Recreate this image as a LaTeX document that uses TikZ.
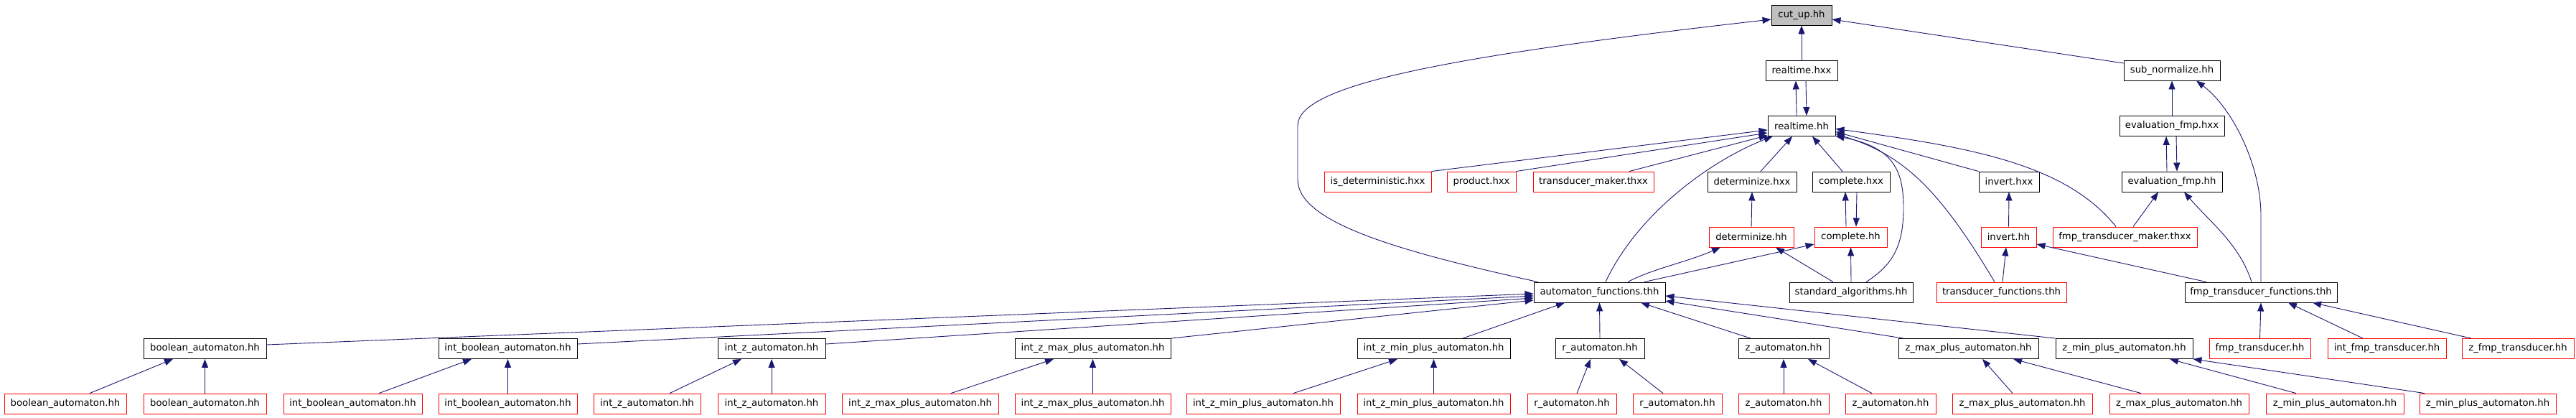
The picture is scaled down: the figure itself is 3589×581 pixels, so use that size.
\documentclass[tikz,border=0pt]{standalone}
\usepackage{fontspec}
\usetikzlibrary{arrows.meta}
\newfontfamily\dv{DejaVu Sans}
\definecolor{edgeblue}{HTML}{191970}
\definecolor{boxred}{HTML}{FF0000}
\definecolor{boxgray}{HTML}{BFBFBF}
\newcommand{\bx}[6]{\node[#5,minimum width={#3pt-#2pt}] (#1) at ({(#2+#3)/2},#4) {#6};}
\tikzset{
  base/.style={draw, fill=white, line width=0.9pt, inner sep=0pt, minimum height=28pt,
    font=\dv\fontsize{13.2}{16}\selectfont, text=black},
  bbox/.style={base, draw=black},
  rbox/.style={base, draw=boxred},
  gbox/.style={base, draw=black, fill=boxgray},
  ed/.style={draw=edgeblue, line width=0.9pt, {Triangle[length=12pt,width=9pt]}-}
}
\begin{document}
\begin{tikzpicture}[x=1pt,y=-1pt]
\fill[white] (0,0) rectangle (3589,581);
\useasboundingbox (0,0) rectangle (3589,581);
% row 1-3
\bx{cutup}{2468}{2552}{21}{gbox}{cut\_up.hh}
\bx{rthxx}{2460}{2560}{98}{bbox}{realtime.hxx}
\bx{subnorm}{2959}{3093}{98}{bbox}{sub\_normalize.hh}
\bx{rthh}{2463}{2557}{175.5}{bbox}{realtime.hh}
\bx{evalhxx}{2953}{3099}{175.5}{bbox}{evaluation\_fmp.hxx}
% row 4
\bx{isdet}{1845}{1994}{253}{rbox}{is\_deterministic.hxx}
\bx{product}{2016}{2112}{253}{rbox}{product.hxx}
\bx{tmaker}{2136}{2304}{253}{rbox}{transducer\_maker.thxx}
\bx{dethxx}{2379}{2503}{253}{bbox}{determinize.hxx}
\bx{comphxx}{2525}{2633}{253}{bbox}{complete.hxx}
\bx{invhxx}{2757}{2841}{253}{bbox}{invert.hxx}
\bx{evalhh}{2956}{3096}{253}{bbox}{evaluation\_fmp.hh}
% row 5
\bx{dethh}{2381}{2499}{330}{rbox}{determinize.hh}
\bx{comphh}{2528}{2629}{330}{rbox}{complete.hh}
\bx{invhh}{2760}{2837}{330}{rbox}{invert.hh}
\bx{fmptm}{2860}{3061}{330}{rbox}{fmp\_transducer\_maker.thxx}
% row 6
\bx{af}{2137}{2320}{407}{bbox}{automaton\_functions.thh}
\bx{stdalg}{2493}{2665}{407}{bbox}{standard\_algorithms.hh}
\bx{tfun}{2698}{2879}{407}{rbox}{transducer\_functions.thh}
\bx{fmptf}{3044}{3256}{407}{bbox}{fmp\_transducer\_functions.thh}
% row 7
\bx{ba}{200}{371}{485.5}{bbox}{boolean\_automaton.hh}
\bx{iba}{611}{804}{485.5}{bbox}{int\_boolean\_automaton.hh}
\bx{iza}{1000}{1150}{485.5}{bbox}{int\_z\_automaton.hh}
\bx{izmax}{1414}{1631}{485.5}{bbox}{int\_z\_max\_plus\_automaton.hh}
\bx{izmin}{1891}{2104}{485.5}{bbox}{int\_z\_min\_plus\_automaton.hh}
\bx{ra}{2167}{2291}{485.5}{bbox}{r\_automaton.hh}
\bx{za}{2422}{2548}{485.5}{bbox}{z\_automaton.hh}
\bx{zmax}{2645}{2840}{485.5}{bbox}{z\_max\_plus\_automaton.hh}
\bx{zmin}{2864}{3055}{485.5}{bbox}{z\_min\_plus\_automaton.hh}
\bx{fmpt}{3078}{3219}{485.5}{rbox}{fmp\_transducer.hh}
\bx{ifmpt}{3243}{3408}{485.5}{rbox}{int\_fmp\_transducer.hh}
\bx{zfmpt}{3430}{3586}{485.5}{rbox}{z\_fmp\_transducer.hh}
% row 8
\bx{ba1}{6}{176}{562}{rbox}{boolean\_automaton.hh}
\bx{ba2}{200}{371}{562}{rbox}{boolean\_automaton.hh}
\bx{iba1}{395}{588}{562}{rbox}{int\_boolean\_automaton.hh}
\bx{iba2}{611}{804}{562}{rbox}{int\_boolean\_automaton.hh}
\bx{iza1}{827}{976}{562}{rbox}{int\_z\_automaton.hh}
\bx{iza2}{1000}{1150}{562}{rbox}{int\_z\_automaton.hh}
\bx{izmax1}{1173}{1391}{562}{rbox}{int\_z\_max\_plus\_automaton.hh}
\bx{izmax2}{1414}{1631}{562}{rbox}{int\_z\_max\_plus\_automaton.hh}
\bx{izmin1}{1653}{1867}{562}{rbox}{int\_z\_min\_plus\_automaton.hh}
\bx{izmin2}{1891}{2104}{562}{rbox}{int\_z\_min\_plus\_automaton.hh}
\bx{ra1}{2128}{2252}{562}{rbox}{r\_automaton.hh}
\bx{ra2}{2275}{2399}{562}{rbox}{r\_automaton.hh}
\bx{za1}{2422}{2548}{562}{rbox}{z\_automaton.hh}
\bx{za2}{2571}{2697}{562}{rbox}{z\_automaton.hh}
\bx{zmax1}{2720}{2915}{562}{rbox}{z\_max\_plus\_automaton.hh}
\bx{zmax2}{2939}{3133}{562}{rbox}{z\_max\_plus\_automaton.hh}
\bx{zmin1}{3157}{3349}{562}{rbox}{z\_min\_plus\_automaton.hh}
\bx{zmin2}{3371}{3561}{562}{rbox}{z\_min\_plus\_automaton.hh}
% edges (arrow tip at the first point)
\draw[ed] (cutup.south) -- (rthxx.north);
\draw[ed] ([yshift=-6pt]cutup.west) .. controls (2000,80) and (1808,120) .. (1808,175) -- (1808,250) .. controls (1808,310) and (1950,350) .. ([xshift=6pt]af.north west);
\draw[ed] ([yshift=-6pt]cutup.east) -- ([yshift=10pt]subnorm.west);
\draw[ed] ([xshift=-8pt]rthxx.south) -- ([xshift=-7pt]rthh.north);
\draw[ed] ([xshift=7pt]rthh.north) -- ([xshift=6pt]rthxx.south);
\draw[ed] ([yshift=-5.5pt]rthh.west) -- (isdet.north east);
\draw[ed] ([yshift=-9.5pt]rthh.west) -- (product.north east);
\draw[ed] ([yshift=-13pt]rthh.west) -- ([xshift=50pt]tmaker.north);
\draw[ed] ([xshift=7pt]rthh.south west) .. controls (2380,225) and (2280,300) .. ([xshift=8.5pt]af.north);
\draw[ed] ([xshift=-13pt]rthh.south) -- ([xshift=12pt]dethxx.north);
\draw[ed] ([xshift=15pt]rthh.south) -- ([xshift=-12pt]comphxx.north);
\draw[ed] ([yshift=-4pt]rthh.east) .. controls (2750,205) and (2880,230) .. ([xshift=-12.5pt]fmptm.north);
\draw[ed] ([yshift=-8pt]rthh.east) -- (invhxx.north west);
\draw[ed] ([yshift=-11pt]rthh.east) .. controls (2650,215) and (2700,260) .. ([xshift=-9.5pt]tfun.north);
\draw[ed] ([yshift=-14pt]rthh.east) .. controls (2640,205) and (2652,240) .. (2652,290) .. controls (2652,345) and (2635,370) .. ([xshift=21pt]stdalg.north);
\draw[ed] (subnorm.south) -- (evalhxx.north);
\draw[ed] ([xshift=34pt]subnorm.south) .. controls (3110,150) and (3150,230) .. (3150,300) -- (fmptf.north);
\draw[ed] ([xshift=-8pt]evalhxx.south) -- ([xshift=-7pt]evalhh.north);
\draw[ed] ([xshift=7pt]evalhh.north) -- ([xshift=6pt]evalhxx.south);
\draw[ed] ([xshift=-19pt]evalhh.south) -- ([xshift=11.5pt]fmptm.north);
\draw[ed] ([xshift=17pt]evalhh.south) .. controls (3080,310) and (3120,340) .. ([xshift=-13pt]fmptf.north);
\draw[ed] (dethxx.south) -- (dethh.north);
\draw[ed] ([xshift=-8pt]comphxx.south) -- ([xshift=-6.5pt]comphh.north);
\draw[ed] ([xshift=7.5pt]comphh.north) -- ([xshift=8pt]comphxx.south);
\draw[ed] ([xshift=-43pt]dethh.south) .. controls (2350,365) and (2300,375) .. ([xshift=39.5pt]af.north);
\draw[ed] ([yshift=-10pt]comphh.west) -- ([xshift=62.5pt]af.north);
\draw[ed] ([xshift=34pt]dethh.south) -- ([xshift=-25pt]stdalg.north);
\draw[ed] (comphh.south) -- (stdalg.north);
\draw[ed] (invhxx.south) -- (invhh.north);
\draw[ed] ([xshift=-3.5pt]invhh.south) -- ([xshift=1.5pt]tfun.north);
\draw[ed] ([yshift=-10pt]invhh.east) -- ([xshift=-76pt]fmptf.north);
% into automaton_functions
\draw[ed] ([yshift=-2pt]af.west) -- ([yshift=5.5pt]ba.east);
\draw[ed] ([yshift=-5pt]af.west) -- ([yshift=6.5pt]iba.east);
\draw[ed] ([yshift=-8pt]af.west) -- ([yshift=6.5pt]iza.east);
\draw[ed] ([yshift=-11pt]af.west) -- (izmax.north east);
\draw[ed] ([xshift=-48.5pt]af.south) -- ([xshift=40.5pt]izmin.north);
\draw[ed] (af.south) -- (ra.north);
\draw[ed] ([xshift=57.5pt]af.south) -- ([xshift=-46pt]za.north);
\draw[ed] ([yshift=-12pt]af.east) -- ([xshift=7pt]zmax.north west);
\draw[ed] ([yshift=-5pt]af.east) -- (zmin.north west);
% into fmp_transducer_functions
\draw[ed] (fmptf.south) -- (fmpt.north);
\draw[ed] ([xshift=38pt]fmptf.south) -- ([xshift=-33.5pt]ifmpt.north);
\draw[ed] ([xshift=72pt]fmptf.south) -- ([xshift=-65pt]zfmpt.north);
% bottom row
\draw[ed] ([xshift=-44.5pt]ba.south) -- ([xshift=34pt]ba1.north);
\draw[ed] (ba.south) -- (ba2.north);
\draw[ed] ([xshift=-50.5pt]iba.south) -- ([xshift=36.5pt]iba1.north);
\draw[ed] (iba.south) -- (iba2.north);
\draw[ed] ([xshift=-42pt]iza.south) -- ([xshift=31.5pt]iza1.north);
\draw[ed] (iza.south) -- (iza2.north);
\draw[ed] ([xshift=-54.5pt]izmax.south) -- ([xshift=43pt]izmax1.north);
\draw[ed] (izmax.south) -- (izmax2.north);
\draw[ed] ([xshift=-50.5pt]izmin.south) -- ([xshift=42pt]izmin1.north);
\draw[ed] (izmin.south) -- (izmin2.north);
\draw[ed] ([xshift=-13pt]ra.south) -- ([xshift=7pt]ra1.north);
\draw[ed] ([xshift=27pt]ra.south) -- ([xshift=-20pt]ra2.north);
\draw[ed] (za.south) -- (za1.north);
\draw[ed] ([xshift=34pt]za.south) -- ([xshift=-26pt]za2.north);
\draw[ed] ([xshift=19.5pt]zmax.south) -- ([xshift=-13.5pt]zmax1.north);
\draw[ed] ([xshift=62.5pt]zmax.south) -- ([xshift=-53pt]zmax2.north);
\draw[ed] ([xshift=63.5pt]zmin.south) -- ([xshift=-54pt]zmin1.north);
\draw[ed] (zmin.south east) -- ([xshift=-88pt]zmin2.north);
\end{tikzpicture}
\end{document}
